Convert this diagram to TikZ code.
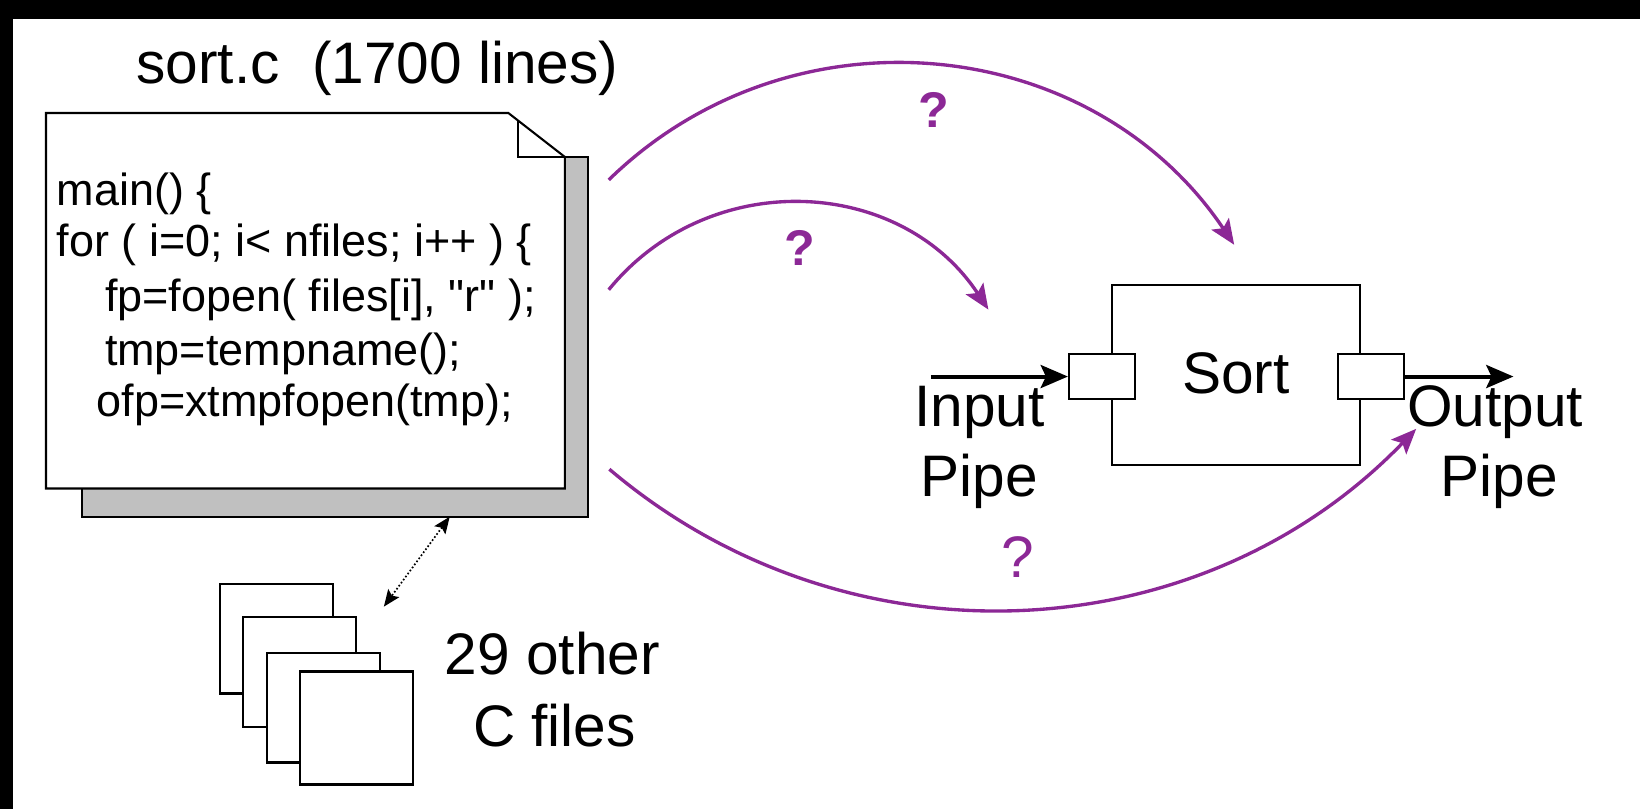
\documentclass[tikz,border=0pt]{standalone}
\usepackage{fontspec}
\setmainfont{Liberation Sans}
\usetikzlibrary{arrows.meta}
\definecolor{purp}{RGB}{140,40,150}
\definecolor{shade}{RGB}{192,192,192}
\newcommand\straightdq{\XeTeXglyph\XeTeXcharglyph"0022\relax}
\begin{document}
\begin{tikzpicture}[x=0.5pt,y=-0.5pt,
  lbl/.style={inner sep=0pt, anchor=base west, font=\fontsize{28}{33}\selectfont},
  code/.style={inner sep=0pt, anchor=base west, font=\fontsize{21.5}{25}\selectfont},
  qmark/.style={inner sep=0pt, text=purp, font=\fontsize{24}{28}\selectfont\bfseries},
  qarc/.style={draw=purp, line width=1.6pt, -{Stealth[length=12pt,width=10pt,inset=2.5pt]}},
  pipearrow/.style={line width=1.9pt, -{Stealth[length=13pt,width=11pt,inset=2.5pt]}},
  outline/.style={draw=black, line width=1pt},
  port/.style={outline, fill=white, rectangle, minimum width=31.5pt, minimum height=21.5pt, inner sep=0pt},
  filebox/.style={outline, fill=white},
  linkarrow/.style={densely dotted, line width=0.8pt, {Stealth[length=8pt,width=6.5pt,inset=1.5pt]}-{Stealth[length=8pt,width=6.5pt,inset=1.5pt]}}
]
\useasboundingbox (0,0) rectangle (1568,773);
\fill[white] (0,0) rectangle (1568,773);
\fill[black] (0,0) rectangle (1568,18);
\fill[black] (0,0) rectangle (12.5,773);

% title
\node[lbl] (title) at (130,80) {sort.c\ \ (1700 lines)};

% page with shadow
\draw[outline, fill=shade] (78,150) rectangle (562,494);
\draw[outline, fill=white] (44,108) -- (486,108) -- (540,150) -- (540,467) -- (44,467) -- cycle;
\draw[outline] (495,115) -- (495,150) -- (540,150);

% code
\node[code] (c1) at (54,196) {main() \{};
\node[code] (c2) at (54,245) {for ( i=0; i< nfiles; i++ ) \{};
\node[code] (c3) at (100,298) {fp=fopen( files[i], \straightdq r\straightdq\ );};
\node[code] (c4) at (100,349) {tmp=tempname();};
\node[code] (c5) at (92,398) {ofp=xtmpfopen(tmp);};

% other files
\draw[filebox] (210,558) rectangle (318,663);
\draw[filebox] (232,590) rectangle (340,695);
\draw[filebox] (255,624) rectangle (363,729);
\draw[filebox] (287,642) rectangle (395,750);
\node[lbl] (oth1) at (425,645) {29 other};
\node[lbl] (oth2) at (452,714) {C files};

\coordinate (shadowbot) at (430,494);
\coordinate (stacktop) at (367,580);
\draw[linkarrow] (shadowbot) -- (stacktop);

% sort component
\node[outline, rectangle, minimum width=118.5pt, minimum height=86.25pt, inner sep=0pt] (sortbox) at (1181.5,358.75) {};
\node[port] (inport) at (1053.5,360) {};
\node[port] (outport) at (1310.5,360) {};
\node[lbl] (sortlbl) at (1130,376) {Sort};

\coordinate (inStart) at (890,360);
\coordinate (outEnd) at (1447,360);
\draw[pipearrow] (inStart) -- (inport.west);
\draw[pipearrow] (outport.east) -- (outEnd);

\node[lbl] (in1) at (874,408) {Input};
\node[lbl] (in2) at (880,475) {Pipe};
\node[lbl] (out1) at (1345,408) {Output};
\node[lbl] (out2) at (1377,475) {Pipe};

% purple arcs
\coordinate (src1) at (582,172);
\coordinate (dst1) at (1180,234);
\coordinate (src2) at (582,277);
\coordinate (dst2) at (945,296);
\coordinate (src3) at (582.6,448.6);
\coordinate (dst3) at (1354,410);
\draw[qarc] (src1) .. controls (756.8,1.5) and (1043.8,31.3) .. (dst1);
\draw[qarc] (src2) .. controls (678.4,158.9) and (861,168.7) .. (dst2);
\draw[qarc] (src3) .. controls (809.5,641.3) and (1147,624.9) .. (dst3);

\node[qmark] (q1) at (893,105) {?};
\node[qmark] (q2) at (765,237) {?};
\node[qmark, font=\fontsize{28}{32}\selectfont] (q3) at (973,533) {?};
\end{tikzpicture}
\end{document}
